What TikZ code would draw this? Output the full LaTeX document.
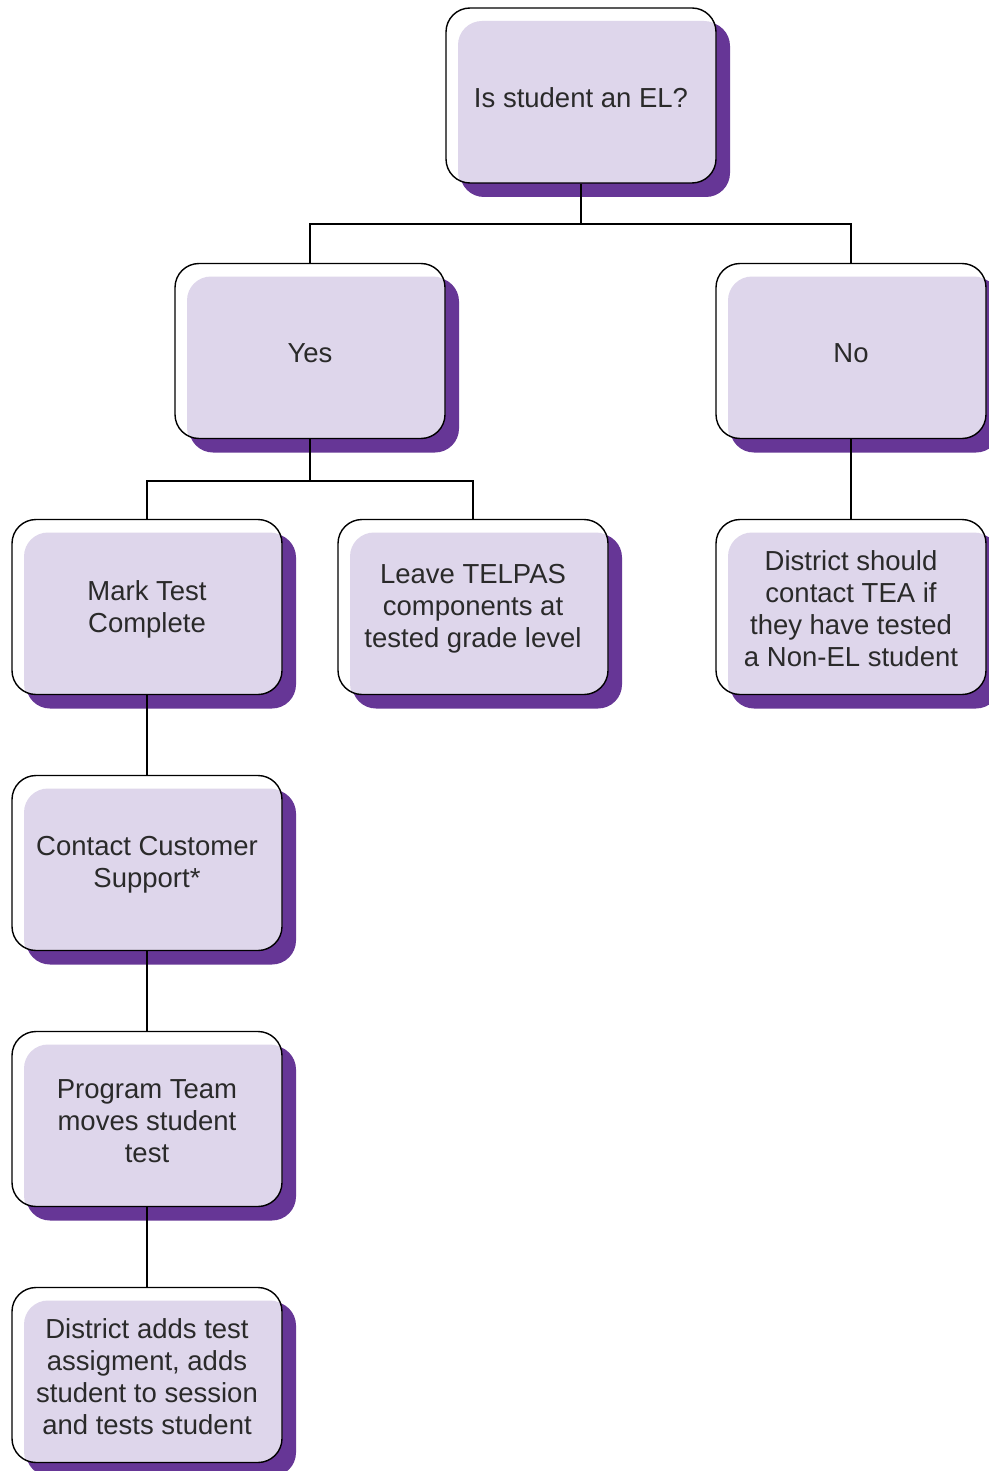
\documentclass[tikz,border=0pt]{standalone}
\usepackage{fontspec}
\setmainfont{Liberation Sans}
\definecolor{lav}{HTML}{DED6EB}
\definecolor{shadowc}{HTML}{663696}
\definecolor{txt}{HTML}{2A2A2A}
\tikzset{
  box/.style={draw=black, line width=1.4pt, rounded corners=24pt,
    minimum width=270pt, minimum height=175pt, inner sep=2pt},
  boxtext/.style={align=center, text=txt, inner sep=0pt,
    font=\fontsize{27.5}{32}\selectfont},
  conn/.style={draw=black, line width=2pt}
}
\newcommand\mybox[4]{%
  \fill[shadowc, rounded corners=24pt] (#2-135+14,#3-87.5+14) rectangle ++(270,175);
  \fill[white, rounded corners=24pt] (#2-135,#3-87.5) rectangle ++(270,175);
  \begin{scope}
    \clip[rounded corners=24pt] (#2-135,#3-87.5) rectangle ++(270,175);
    \fill[lav, rounded corners=24pt] (#2-135+12,#3-87.5+13) rectangle ++(270,175);
  \end{scope}
  \node[box] (#1) at (#2,#3) {};
  \node[boxtext] at ([yshift=-2pt]#1.center) {#4};
}
\begin{document}
\begin{tikzpicture}[x=1pt,y=-1pt]
\useasboundingbox (0,0) rectangle (988,1471);
\fill[white] (0,0) rectangle (988,1471);
\mybox{top}{581}{95.5}{Is student an EL?}
\mybox{yes}{310}{351}{Yes}
\mybox{no}{851}{351}{No}
\mybox{mark}{147}{607}{Mark Test\\Complete}
\mybox{leave}{473}{607}{Leave TELPAS\\components at\\tested grade level}
\mybox{dist}{851}{607}{District should\\contact TEA if\\they have tested\\a Non-EL student}
\mybox{contact}{147}{863}{Contact Customer\\Support*}
\mybox{prog}{147}{1119}{Program Team\\moves student\\test}
\mybox{adds}{147}{1375}{District adds test\\assigment, adds\\student to session\\and tests student}
\coordinate (j1) at (581,224);
\coordinate (j2) at (310,481);
\draw[conn] (top.south) -- (j1) -| (yes.north);
\draw[conn] (j1) -| (no.north);
\draw[conn] (yes.south) -- (j2) -| (mark.north);
\draw[conn] (j2) -| (leave.north);
\draw[conn] (no.south) -- (dist.north);
\draw[conn] (mark.south) -- (contact.north);
\draw[conn] (contact.south) -- (prog.north);
\draw[conn] (prog.south) -- (adds.north);
\end{tikzpicture}
\end{document}
